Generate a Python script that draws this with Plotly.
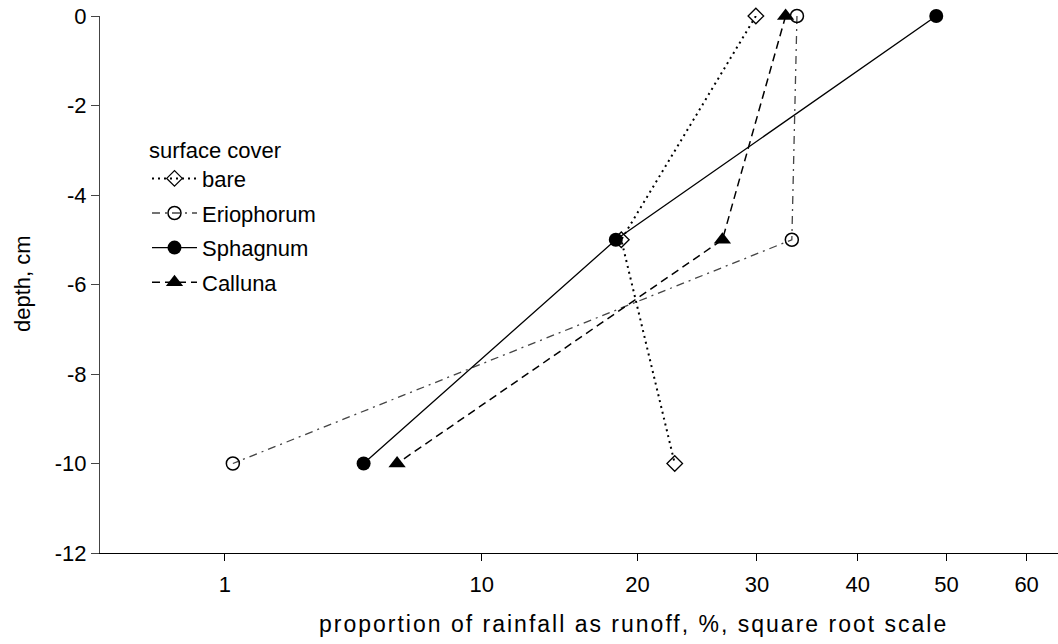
import numpy as np
import plotly.graph_objects as go

# ---- data ----
depth = [0, -5, -10]
bare = [29.9, 18.8, 22.9]
eriophorum = [33.8, 33.3, 1.14]
sphagnum = [48.8, 18.4, 4.7]
calluna = [32.7, 26.9, 6.0]
x_ticks = [1, 10, 20, 30, 40, 50, 60]
y_ticks = [0, -2, -4, -6, -8, -10, -12]

FONT = "Liberation Sans, Arial, sans-serif"
W, H = 1058, 644
L, R, T, B = 100, 0, 16, 91
PW, PH = W - L - R, H - T - B

fig = go.Figure()

series = [
    ("bare", bare, dict(dash="2px,4px", width=2, color="black"),
     dict(symbol="diamond-open", size=12, color="black", line=dict(width=1.3))),
    ("Eriophorum", eriophorum, dict(dash="8px,5px,2px,5px", width=1.3, color="#444444"),
     dict(symbol="circle-open", size=13, color="black", line=dict(width=1.5))),
    ("Sphagnum", sphagnum, dict(dash="solid", width=1.3, color="black"),
     dict(symbol="circle", size=14, color="black")),
    ("Calluna", calluna, dict(dash="8px,5px", width=1.5, color="black"),
     dict(symbol="triangle-up", size=15, color="black")),
]
for name, vals, ln, mk in series:
    fig.add_trace(go.Scatter(
        x=np.sqrt(vals), y=depth, mode="lines+markers", name=name,
        line=ln, marker=mk, cliponaxis=False, legendgroup=name,
    ))

fig.update_layout(
    width=W, height=H,
    margin=dict(l=L, r=R, t=T, b=B),
    paper_bgcolor="white", plot_bgcolor="white",
    font=dict(family=FONT, size=22, color="black"),
    showlegend=True,
    legend=dict(
        title=dict(text="surface cover", font=dict(size=22)),
        x=(147 - L) / PW, y=(553 - 129) / PH, xanchor="left", yanchor="top",
        bgcolor="rgba(0,0,0,0)", tracegroupgap=3, itemwidth=45,
        font=dict(size=22),
    ),
    xaxis=dict(
        range=[-0.05, 8.01], tickmode="array",
        tickvals=list(np.sqrt(x_ticks)), ticktext=[str(v) for v in x_ticks],
        showgrid=False, zeroline=False, showline=True, linecolor="black", linewidth=1,
        ticks="outside", ticklen=7, tickcolor="black", ticklabelstandoff=5,
        tickfont=dict(size=22),
    ),
    yaxis=dict(
        range=[-12, 0], tickmode="array", tickvals=y_ticks,
        ticktext=[str(v) for v in y_ticks],
        showgrid=False, zeroline=False, showline=True, linecolor="#444444", linewidth=1,
        ticks="outside", ticklen=8, tickcolor="#444444",
        tickfont=dict(size=22),
    ),
    annotations=[
        dict(text='<span style="letter-spacing:2px">proportion of rainfall as runoff, %, square root scale</span>',
             xref="paper", yref="paper",
             x=(633 - L) / PW, y=-(624 - 553) / PH,
             xanchor="center", yanchor="middle", showarrow=False,
             font=dict(size=23)),
        dict(text="depth, cm", xref="paper", yref="paper",
             x=-(L - 22) / PW, y=(553 - 284) / PH,
             xanchor="center", yanchor="middle", textangle=-90, showarrow=False,
             font=dict(size=22)),
    ],
)

fig.write_html("out.html")
